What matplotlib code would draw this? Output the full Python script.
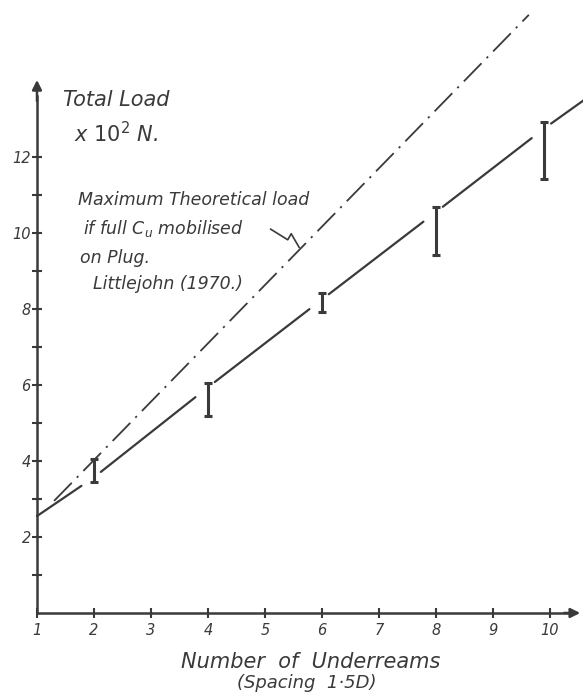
import numpy as np
import matplotlib.pyplot as plt

# ------------------------------------------------------------
# Data
# ------------------------------------------------------------

# measured total load (x 10^2 N) at each number of underreams
bar_x = [2, 4, 6, 8, 9.9]
bar_lo = [3.45, 5.18, 7.92, 9.42, 11.42]
bar_hi = [4.05, 6.05, 8.42, 10.68, 12.92]

# hand drawn trend line through the results
trend_x = [1, 2, 4, 6, 8, 9.9, 10.6]
trend_y = [2.55, 3.57, 5.94, 8.25, 10.55, 12.75, 13.5]

# theoretical load line (Littlejohn, 1970)
theory_x = [1.3, 9.63]
theory_y = [2.95, 15.74]

x_ticks = [1, 2, 3, 4, 5, 6, 7, 8, 9, 10]
y_ticks = [2, 4, 6, 8, 10, 12]
y_minor = [1, 3, 5, 7, 9, 11]

INK = "#3a3a3a"
FONT = "DejaVu Sans"

fig = plt.figure(figsize=(5.83, 6.98), dpi=100)
ax = fig.add_axes([0, 0, 1, 1])
ax.set_xlim(0.351, 10.58)
ax.set_ylim(-2.237, 16.13)

# axes drawn like the hand sketch: spines crossing at (1, 0)
for side in ["top", "right"]:
    ax.spines[side].set_visible(False)
ax.spines["left"].set_position(("data", 1))
ax.spines["bottom"].set_position(("data", 0))
ax.spines["left"].set_bounds(0, 13.6)
ax.spines["bottom"].set_bounds(1, 10.3)
for side in ["left", "bottom"]:
    ax.spines[side].set_color(INK)
    ax.spines[side].set_linewidth(1.8)

ax.annotate("", xy=(1, 14.1), xytext=(1, 13.4),
            arrowprops=dict(arrowstyle="-|>", color=INK, lw=1.8,
                            mutation_scale=14))
ax.annotate("", xy=(10.58, 0), xytext=(10.2, 0),
            arrowprops=dict(arrowstyle="-|>", color=INK, lw=1.8,
                            mutation_scale=14))

ax.set_xticks(x_ticks)
ax.set_xticklabels([str(v) for v in x_ticks])
ax.set_yticks(y_ticks)
ax.set_yticklabels([str(v) for v in y_ticks])
ax.set_yticks(y_minor, minor=True)
ax.tick_params(axis="both", which="both", direction="inout", length=7,
               width=1.5, color=INK, labelcolor=INK, labelsize=10.5)
ax.tick_params(axis="y", pad=1)
ax.tick_params(axis="x", pad=4)
for lab in ax.get_xticklabels() + ax.get_yticklabels():
    lab.set_fontstyle("italic")

# solid trend line, broken either side of each error bar
gap_before, gap_after = 0.22, 0.12
tx = np.array(trend_x)
ty = np.array(trend_y)
for i in range(len(tx) - 1):
    x0 = tx[i] + (gap_after if tx[i] in bar_x else 0)
    x1 = tx[i + 1] - (gap_before if tx[i + 1] in bar_x else 0)
    xs = np.array([x0, x1])
    ax.plot(xs, np.interp(xs, tx, ty), color=INK, lw=1.6,
            solid_capstyle="round")

# error bars
ax.vlines(bar_x, bar_lo, bar_hi, color=INK, lw=2.2)
ax.hlines(bar_lo + bar_hi, np.array(bar_x * 2) - 0.07,
          np.array(bar_x * 2) + 0.07, color=INK, lw=2.2)

# theoretical line
ax.plot(theory_x, theory_y, color=INK, lw=1.3,
        linestyle=(0, (14, 4, 1.2, 4)))

# text
txt = dict(color=INK, fontstyle="italic", family=FONT)
ax.text(1.45, 13.5, "Total Load", fontsize=15, va="center", **txt)
ax.text(1.65, 12.62, r"x $10^2$ N.", fontsize=15, va="center", **txt)

note = ["Maximum Theoretical load",
        "if full C$_u$ mobilised",
        "on Plug.",
        "Littlejohn (1970.)"]
note_x = [0.72, 0.8, 0.76, 0.99]
note_y = [10.87, 10.13, 9.35, 8.66]
for s, xx, yy in zip(note, note_x, note_y):
    ax.text(1 + xx, yy, s, fontsize=12.5, va="center", **txt)

# little lightning arrow from the note to the theoretical line
ax.plot([5.1, 5.4, 5.46, 5.6], [10.1, 9.82, 9.98, 9.62], color=INK, lw=1.2)

ax.text(5.8, -1.3, "Number  of  Underreams", fontsize=15, ha="center",
        va="center", **txt)
ax.text(5.73, -1.85, "(Spacing  1·5D)", fontsize=13, ha="center",
        va="center", **txt)

fig.savefig("out.png", dpi=100, facecolor="white")
